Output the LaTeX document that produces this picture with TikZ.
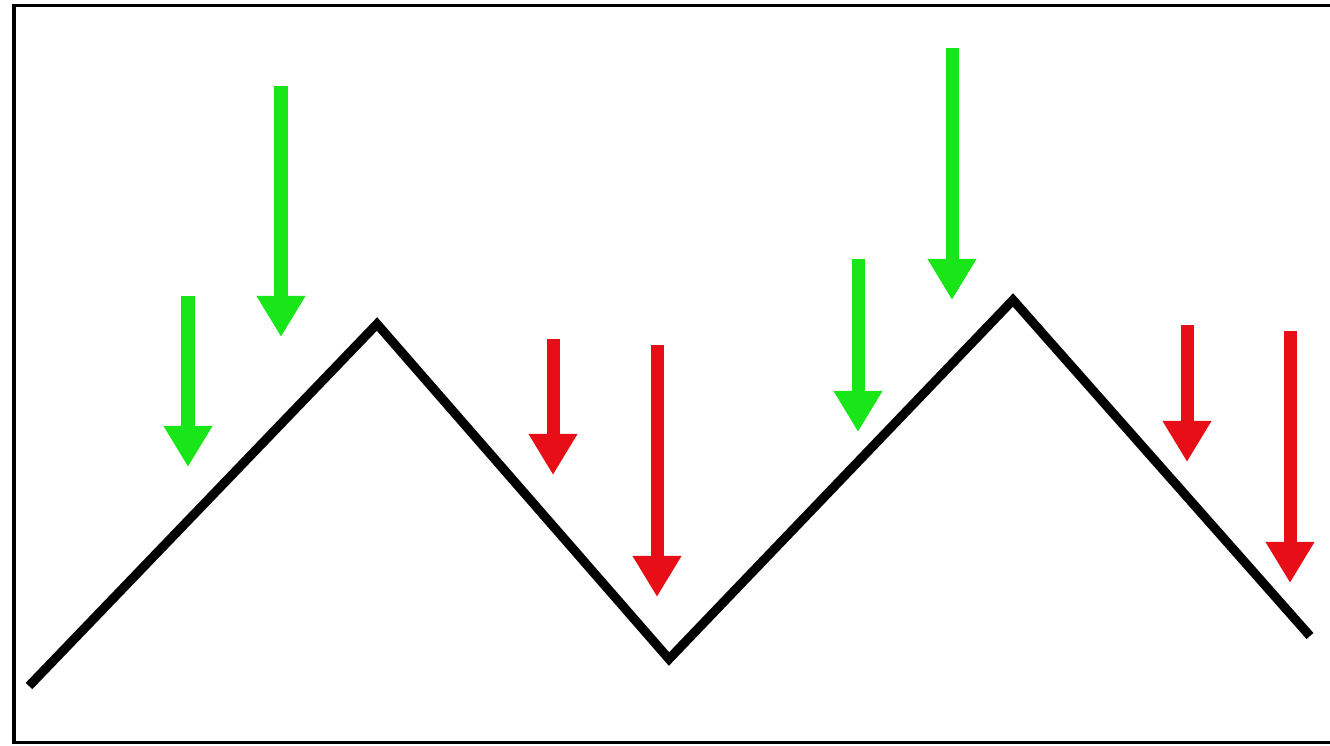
\documentclass[tikz,border=0pt]{standalone}
\usetikzlibrary{arrows.meta}
\definecolor{upgreen}{RGB}{24,230,24}
\definecolor{downred}{RGB}{232,14,24}

\begin{document}
\begin{tikzpicture}[>={Triangle[width=13.1pt,length=11.7pt]},x=0.01cm,y=-0.01cm,
  wave/.style={line width=2.6pt,line join=miter},
  push/.style={->,line width=3.7pt}]
  \clip (0,0) rectangle (1330,745);
  \fill[white] (0,0) rectangle (1330,745);
  \draw[line width=1.1pt] (14,5.5) rectangle (1340,742.5);
  % the zigzag
  \draw[wave] (29,686) coordinate(s0) -- (377,324) coordinate(p1)
    -- (669,659) coordinate(v1) -- (1013,300) coordinate(p2) -- (1310,636) coordinate(s1);
  % arrows
  \foreach \x/\t/\b/\c in
  {
     188/296/467/upgreen,
     281/86/337/upgreen,
     858/259/432/upgreen,
     952/48/300/upgreen,
     553/339/475/downred,
     657/345/597/downred,
    1187/325/462/downred,
    1290/331/583/downred%
  }
  {
    \draw[push,\c] (\x,\t) -- (\x,\b);
  }
\end{tikzpicture}
\end{document}
